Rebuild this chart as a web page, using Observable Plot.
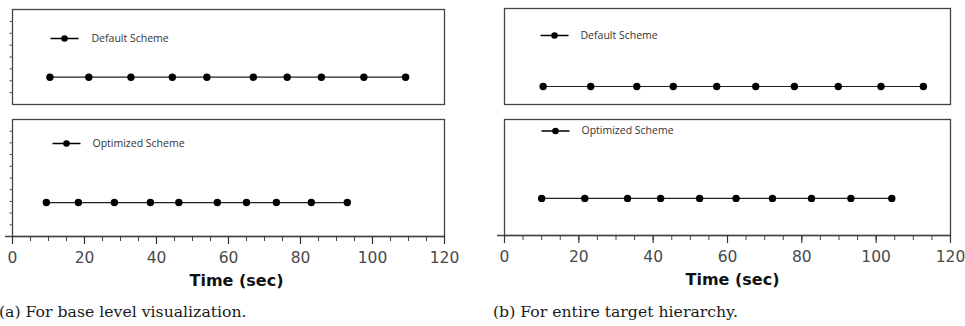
<!DOCTYPE html>
<html>
<head>
<meta charset="utf-8">
<script src="https://cdn.jsdelivr.net/npm/d3@7"></script>
<script src="https://cdn.jsdelivr.net/npm/@observablehq/plot@0.6"></script>
<style>
  html, body { margin: 0; padding: 0; background: #fff; }
  #root { position: relative; width: 965px; height: 326px; overflow: hidden; }
  .panel { position: absolute; }
  .caption { position: absolute; font-family: "DejaVu Serif", serif; font-size: 15.7px; color: #1a1a1a; white-space: nowrap; line-height: 1; }
</style>
</head>
<body>
<div id="root"></div>
<script>
// ---- data ----
const seriesNames = ["Default Scheme", "Optimized Scheme"];
const timesDefaultA   = [10.4, 21.2, 32.9, 44.4, 54.0, 66.9, 76.3, 85.8, 97.6, 109.2];
const timesOptimizedA = [9.4, 18.3, 28.3, 38.3, 46.2, 56.9, 65.0, 73.3, 83.0, 93.0];
const timesDefaultB   = [10.4, 23.2, 35.6, 45.4, 57.1, 67.6, 78.0, 89.8, 101.3, 112.7];
const timesOptimizedB = [10.0, 21.6, 33.1, 42.0, 52.5, 62.3, 72.1, 82.6, 93.2, 104.2];
const levelDefaultA = 2.3, levelOptimizedA = 2.9, levelDefaultB = 1.5, levelOptimizedB = 3.2;
const xMajorTicks = [0, 20, 40, 60, 80, 100, 120];
const xMinorTicks = d3.range(0, 121, 5);
const xLabel = "Time (sec)";
const captions = ["(a) For base level visualization.", "(b) For entire target hierarchy."];

const root = document.getElementById("root");

const legendSymbol = {
  draw(ctx, size) {
    const r = Math.sqrt(size / Math.PI);
    ctx.moveTo(-14, -0.65); ctx.lineTo(14, -0.65); ctx.lineTo(14, 0.65); ctx.lineTo(-14, 0.65); ctx.closePath();
    ctx.moveTo(r, 0); ctx.arc(0, 0, r, 0, 2 * Math.PI);
  }
};

function panel({left, top, width, height, mL, mR, mT, mB, times, level, yMax, name, legDot, legText, legDy, yTicks, xAxis, labelDx}) {
  const data = times.map(t => ({t, v: level}));
  const marks = [
    Plot.frame({stroke: "#444", strokeWidth: 1.3}),
    Plot.line(data, {x: "t", y: "v", stroke: "#222", strokeWidth: 1.2}),
    Plot.dot(data, {x: "t", y: "v", r: 3.7, fill: "#000", stroke: "none"}),
    Plot.dot([name], {frameAnchor: "top-left", dx: legDot, dy: legDy, symbol: legendSymbol, r: 3.3, fill: "#000", stroke: "none"}),
    Plot.text([name], {text: d => d, frameAnchor: "top-left", dx: legText, dy: legDy, textAnchor: "start", lineAnchor: "middle",
      fontFamily: "'Open Sans', sans-serif", fontSize: 10.5, fill: "#333", letterSpacing: "-0.3px"})
  ];
  if (yTicks) {
    marks.push(Plot.axisY({ticks: d3.range(1, yMax), tickSize: 2.5, tickFormat: () => "", label: null, color: "#555"}));
  }
  if (xAxis) {
    marks.push(
      Plot.ruleY([0], {insetLeft: -7, stroke: "#444", strokeWidth: 1.3}),
      Plot.axisX({ticks: xMinorTicks, tickSize: 5, tickFormat: () => "", label: null, color: "#444"}),
      Plot.axisX({ticks: xMajorTicks, tickSize: 8, tickFormat: () => "", label: null, color: "#333", strokeWidth: 1.2}),
      Plot.axisX({ticks: xMajorTicks, tickSize: 0, tickPadding: 15, label: null, color: "#4a4a4a",
        fontSize: 15.5, fontFamily: "'DejaVu Sans', sans-serif"}),
      Plot.text([xLabel], {text: d => d, frameAnchor: "bottom", dy: 44, dx: labelDx, lineAnchor: "middle",
        fontWeight: "bold", fontSize: 16, fill: "#111", fontFamily: "'DejaVu Sans', sans-serif"})
    );
  }
  const chart = Plot.plot({
    width, height,
    marginLeft: mL, marginRight: mR, marginTop: mT, marginBottom: mB,
    x: {domain: [0, 120], axis: null},
    y: {domain: [0, yMax], axis: null},
    style: {background: "transparent", overflow: "visible"},
    marks
  });
  const div = document.createElement("div");
  div.className = "panel";
  div.style.left = left + "px";
  div.style.top = top + "px";
  div.appendChild(chart);
  root.appendChild(div);
}

// (a) left column
panel({left: 0, top: 0, width: 460, height: 105, mL: 12, mR: 16, mT: 9, mB: 1,
  times: timesDefaultA, level: levelDefaultA, yMax: 8, name: seriesNames[0],
  legDot: 52, legText: 79, legDy: 29, yTicks: true, xAxis: false});
panel({left: 0, top: 110, width: 460, height: 185, mL: 12, mR: 16, mT: 9, mB: 59,
  times: timesOptimizedA, level: levelOptimizedA, yMax: 10, name: seriesNames[1],
  legDot: 54, legText: 80, legDy: 24, yTicks: true, xAxis: true, labelDx: 8});
// (b) right column
panel({left: 490, top: 0, width: 475, height: 105, mL: 14, mR: 15, mT: 8, mB: 1,
  times: timesDefaultB, level: levelDefaultB, yMax: 8, name: seriesNames[0],
  legDot: 50, legText: 76, legDy: 27, yTicks: false, xAxis: false});
panel({left: 490, top: 110, width: 475, height: 185, mL: 14, mR: 15, mT: 9, mB: 60,
  times: timesOptimizedB, level: levelOptimizedB, yMax: 10, name: seriesNames[1],
  legDot: 51, legText: 77, legDy: 11.5, yTicks: false, xAxis: true, labelDx: 5});

captions.forEach((c, i) => {
  const d = document.createElement("div");
  d.className = "caption";
  d.style.left = (i === 0 ? -1 : 493) + "px";
  d.style.top = "304px";
  d.textContent = c;
  root.appendChild(d);
});
</script>
</body>
</html>
